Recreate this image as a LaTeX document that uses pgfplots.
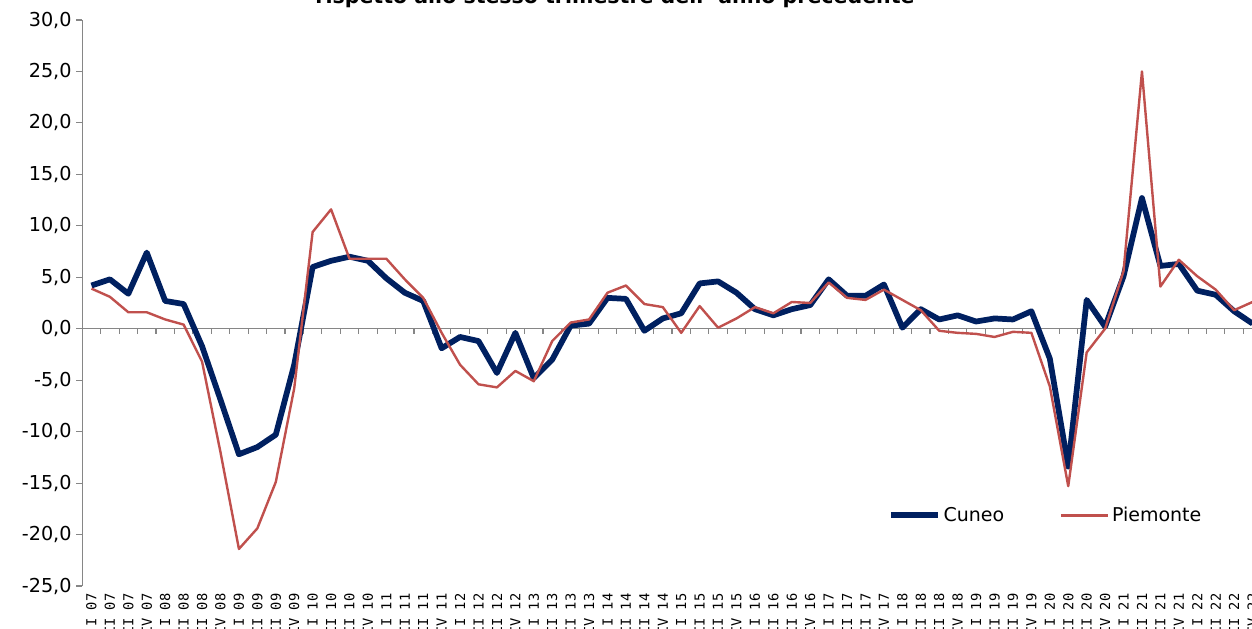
\documentclass[border=0pt]{standalone}
\usepackage{pgfplots}
\pgfplotsset{compat=1.18}
\usepackage{fontspec}
\setmainfont{DejaVu Sans}
\newfontfamily\labfont{DejaVu Sans Mono}
\definecolor{cuneo}{RGB}{0,32,96}
\definecolor{piem}{RGB}{192,80,77}
\definecolor{axgray}{RGB}{134,134,134}

\pgfplotstableread{
k cuneo piem
0 4.2 3.9
1 4.8 3.1
2 3.4 1.6
3 7.4 1.6
4 2.7 0.9
5 2.4 0.4
6 -1.7 -3.2
7 -6.9 -12.0
8 -12.2 -21.4
9 -11.5 -19.4
10 -10.3 -14.9
11 -3.5 -5.8
12 6.0 9.4
13 6.6 11.6
14 7.0 6.8
15 6.6 6.8
16 4.9 6.8
17 3.5 4.8
18 2.7 3.0
19 -1.9 -0.4
20 -0.8 -3.5
21 -1.2 -5.4
22 -4.3 -5.7
23 -0.4 -4.1
24 -4.8 -5.1
25 -3.0 -1.2
26 0.3 0.6
27 0.5 0.9
28 3.0 3.5
29 2.9 4.2
30 -0.2 2.4
31 1.0 2.1
32 1.5 -0.4
33 4.4 2.2
34 4.6 0.1
35 3.5 1.0
36 1.9 2.1
37 1.3 1.5
38 1.9 2.6
39 2.3 2.5
40 4.8 4.5
41 3.2 3.0
42 3.2 2.8
43 4.3 3.8
44 0.1 2.8
45 1.9 1.8
46 0.9 -0.2
47 1.3 -0.4
48 0.7 -0.5
49 1.0 -0.8
50 0.9 -0.3
51 1.7 -0.4
52 -2.9 -5.6
53 -13.4 -15.3
54 2.8 -2.3
55 0.2 0.0
56 5.1 5.6
57 12.7 25.0
58 6.1 4.1
59 6.3 6.7
60 3.7 5.1
61 3.3 3.8
62 1.7 1.8
63 0.5 2.6
}\datatable

\begin{document}
\begin{tikzpicture}
\begin{axis}[
  at={(61.7pt,31.5pt)}, anchor=south west,
  scale only axis, width=877.7pt, height=424.5pt,
  xmin=-0.5, xmax=63, ymin=-25, ymax=30,
  axis y line=left, axis x line=bottom,
  axis line style={-, axgray, line width=0.8pt},
  x axis line style={draw=none},
  ytick={-25,-20,...,30},
  tick align=outside,
  major tick length=4.5pt,
  y tick style={axgray, line width=0.8pt},
  x tick style={draw=none},
  /pgf/number format/assume math mode=true,
  y tick label style={/pgf/number format/.cd, fixed, fixed zerofill, precision=1, use comma, /tikz/.cd},
  yticklabel style={font=\fontsize{14.4}{17}\selectfont, black},
  xtick={0,...,63},
  xticklabels={I 07,II 07,III 07,IV 07,I 08,II 08,III 08,IV 08,I 09,II 09,III 09,IV 09,I 10,II 10,III 10,IV 10,I 11,II 11,III 11,IV 11,I 12,II 12,III 12,IV 12,I 13,II 13,III 13,IV 13,I 14,II 14,III 14,IV 14,I 15,II 15,III 15,IV 15,I 16,II 16,III 16,IV 16,I 17,II 17,III 17,IV 17,I 18,II 18,III 18,IV 18,I 19,II 19,III 19,IV 19,I 20,II 20,III 20,IV 20,I 21,II 21,III 21,IV 21,I 22,II 22,III 22,IV 22},
  x tick label style={rotate=90, anchor=east, font=\labfont\fontsize{10.3}{12}\selectfont, black, inner sep=1pt},
  legend style={draw=none, fill=none, at={(axis cs:43.2,-18.13)}, anchor=west, inner sep=0pt,
    font=\fontsize{14.25}{17}\selectfont, legend columns=2,
    /tikz/every even column/.append style={column sep=39.5pt}},
  legend cell align=left,
  legend image code/.code={\draw[#1] (0pt,0pt) -- (35.5pt,0pt);},
]
\draw[axgray, line width=0.8pt] (axis cs:-0.5,0) -- (axis cs:63,0);
\pgfplotsinvokeforeach{0.5,1.5,...,62.5}{
  \draw[axgray, line width=0.8pt] (axis cs:#1,0) -- ++(0pt,-3.75pt);
}
\addplot[cuneo, line width=4.3pt, line join=round] table[x=k, y=cuneo] {\datatable};
\addlegendentry{Cuneo}
\addplot[piem, line width=1.8pt, line join=round] table[x=k, y=piem] {\datatable};
\addlegendentry{Piemonte}
\end{axis}
\node[font=\bfseries\fontsize{15.4}{18}\selectfont, anchor=base] at (461.25pt,468pt) {rispetto allo stesso trimestre dell' anno precedente};
\pgfresetboundingbox
\path (0pt,0pt) rectangle (939pt,471pt);
\end{tikzpicture}
\end{document}
